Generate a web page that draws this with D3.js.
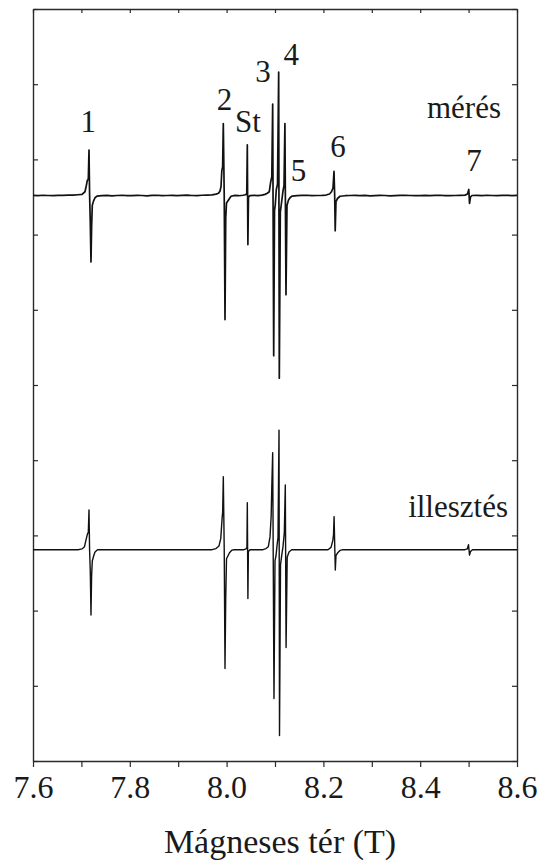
<!DOCTYPE html>
<html>
<head>
<meta charset="utf-8">
<script src="https://cdn.jsdelivr.net/npm/d3@7"></script>
<style>
  body { margin: 0; }
  svg text { font-family: "Liberation Serif" !important; }
</style>
</head>
<body>
<script>
// field values (T) and signal (arb. units, relative to each trace's baseline)
const measField = [
  7.6000, 7.6103, 7.6207, 7.6310, 7.6413, 7.6517, 7.6620, 7.6723, 7.6826, 7.6930,
  // line 1
  7.7012, 7.7074, 7.7101, 7.7122, 7.7143, 7.7157, 7.7169, 7.7184, 7.7198, 7.7211, 7.7225, 7.7250, 7.7281, 7.7322,
  7.7426, 7.7529, 7.7632, 7.7736, 7.7839, 7.7942, 7.8045, 7.8149, 7.8252, 7.8355, 7.8459, 7.8562,
  7.8665, 7.8769, 7.8872, 7.8975, 7.9079, 7.9182, 7.9285, 7.9388, 7.9492, 7.9595, 7.9698, 7.9781,
  // line 2
  7.9833, 7.9864, 7.9885, 7.9901, 7.9918, 7.9932, 7.9951, 7.9967, 7.9982, 7.9998, 8.0029, 8.0060, 8.0091,
  8.0174, 8.0256, 8.0339,
  // St
  8.0397, 8.0417, 8.0428, 8.0434, 8.0440, 8.0452, 8.0483,
  8.0566, 8.0649, 8.0731, 8.0793,
  // lines 3, 4, 5
  8.0841, 8.0882, 8.0911, 8.0934, 8.0952, 8.0973, 8.0990, 8.1006, 8.1027, 8.1052, 8.1076, 8.1089,
  8.1110, 8.1134, 8.1165, 8.1186, 8.1205, 8.1227, 8.1248, 8.1279, 8.1310, 8.1351,
  8.1455, 8.1558, 8.1661, 8.1764, 8.1868, 8.1971, 8.2054, 8.2126,
  // line 6
  8.2167, 8.2198, 8.2219, 8.2233, 8.2244, 8.2260, 8.2291, 8.2343,
  8.2446, 8.2550, 8.2653, 8.2756, 8.2860, 8.2963, 8.3066, 8.3169, 8.3273, 8.3376, 8.3479, 8.3583,
  8.3686, 8.3789, 8.3893, 8.3996, 8.4099, 8.4202, 8.4306, 8.4409, 8.4512, 8.4616, 8.4719, 8.4822, 8.4926,
  // line 7
  8.4977, 8.5004, 8.5019, 8.5039, 8.5070,
  8.5174, 8.5277, 8.5380, 8.5484, 8.5587, 8.5690, 8.5793, 8.5897, 8.6000
];
const measSignal = [
  0.01, -0.02, 0.03, 0.0, -0.03, 0.02, 0.01, 0.04, 0.05, 0.1,
  0.15, 0.5, 1.3, 2.0, 2.2, 6.05, 0.2, -3.7, -8.84, -4.2, -1.3, -0.75, -0.3, -0.08,
  -0.02, 0.01, -0.04, 0.0, 0.03, -0.01, -0.03, 0.02, 0.0, -0.05, 0.01, 0.03,
  -0.02, 0.0, 0.02, -0.03, 0.01, 0.04, 0.0, -0.02, 0.03, 0.05, 0.08, 0.18,
  0.3, 0.6, 1.2, 3.3, 3.8, 9.57, 0.0, -16.5, -3.0, -1.0, -0.7, -0.4, -0.1,
  0.01, -0.03, 0.03,
  0.1, 0.3, 6.72, 0.0, -6.52, -0.2, -0.02,
  0.02, -0.01, 0.05, 0.15,
  0.3, 0.5, 1.8, 2.5, 12.17, -21.3, -2.0, -1.2, 0.8, 1.5, 16.4, -24.3,
  -2.2, -1.0, 0.6, 1.3, 9.57, -13.2, -1.3, -0.6, -0.3, -0.08,
  -0.02, 0.01, 0.03, -0.02, 0.0, 0.02, 0.06, 0.2,
  0.5, 1.0, 3.2, 0.0, -4.7, -0.8, -0.4, -0.1,
  -0.03, 0.0, 0.02, -0.02, 0.01, -0.04, -0.01, 0.02, 0.0, -0.05, -0.02, 0.01,
  0.03, 0.0, -0.03, -0.01, 0.02, -0.02, 0.01, 0.03, -0.01, -0.03, 0.0, 0.02, 0.05,
  0.2, 0.8, -1.06, -0.2, 0.0,
  0.02, -0.01, 0.03, 0.0, -0.02, 0.01, 0.03, -0.01, 0.01
];

const fitField = [
  7.6000, 7.6930,
  7.7012, 7.7064, 7.7095, 7.7126, 7.7143, 7.7157, 7.7169, 7.7184, 7.7198, 7.7211, 7.7225, 7.7250, 7.7281, 7.7333,
  7.9698, 7.9781, 7.9843, 7.9880, 7.9905, 7.9919, 7.9932, 7.9951, 7.9967, 7.9982, 7.9998, 8.0029, 8.0060, 8.0112, 8.0153,
  8.0360, 8.0401, 8.0420, 8.0428, 8.0434, 8.0440, 8.0450, 8.0483,
  8.0752, 8.0814, 8.0862, 8.0897, 8.0921, 8.0934, 8.0952, 8.0979, 8.1000, 8.1021, 8.1041, 8.1062, 8.1083, 8.1093,
  8.1114, 8.1134, 8.1165, 8.1192, 8.1213, 8.1229, 8.1252, 8.1289, 8.1345,
  8.2095, 8.2157, 8.2194, 8.2209, 8.2221, 8.2236, 8.2246, 8.2260, 8.2291, 8.2343, 8.2405,
  8.4926, 8.4973, 8.4998, 8.5019, 8.5039, 8.5080,
  8.6000
];
const fitSignal = [
  0, 0,
  0.1, 0.4, 1.3, 2.1, 2.3, 5.3, 0.0, -3.0, -8.7, -3.5, -1.5, -0.9, -0.3, 0,
  0, 0.15, 0.5, 1.5, 4.0, 5.0, 9.7, 0, -15.8, -6.5, -1.2, -0.8, -0.4, -0.05, 0,
  0, 0.1, 0.3, 6.25, 0, -6.5, -0.25, 0,
  0, 0.15, 0.4, 1.7, 4.5, 8.4, 12.9, -19.8, -1.5, -0.8, 0.5, 1.6, 15.9, -24.7,
  -2.0, -1.0, 0.4, 2.2, 8.6, -13.0, -1.0, -0.3, 0,
  0, 0.3, 1.2, 2.0, 4.4, 0, -2.7, -0.8, -0.45, -0.1, 0,
  0, 0.1, 0.66, -0.73, -0.25, 0,
  0
];

// vertical placement of the two traces (same units as the y axis)
const measOffset = 75.2;
const fitOffset = 28.1;

const xTicks = [7.6, 7.7, 7.8, 7.9, 8.0, 8.1, 8.2, 8.3, 8.4, 8.5, 8.6];
const xTickLabels = ["7.6", "", "7.8", "", "8.0", "", "8.2", "", "8.4", "", "8.6"];
const yTicks = [0, 10, 20, 30, 40, 50, 60, 70, 80, 90, 100];

// peak numbers over the measured trace (height relative to its baseline)
const peakLabels = ["1", "2", "St", "3", "4", "5", "6", "7"];
const peakLabelField = [7.7140, 7.9957, 8.0442, 8.0752, 8.1337, 8.1483, 8.2300, 8.5112];
const peakLabelHeight = [8.4, 11.37, 8.4, 15.13, 17.35, 1.93, 5.16, 3.32];

const ink = "#1a1a1a";

const width = 538, height = 862;
const margin = {top: 9, right: 21, bottom: 101, left: 33};
const iw = width - margin.left - margin.right,
      ih = height - margin.top - margin.bottom;

const svg = d3.select("body").append("svg")
    .attr("width", width)
    .attr("height", height);

const g = svg.append("g")
    .attr("transform", "translate(" + margin.left + "," + margin.top + ")");

const x = d3.scaleLinear().domain([7.6, 8.6]).range([0, iw]);
const y = d3.scaleLinear().domain([0, 100]).range([ih, 0]);

function serifText(sel, size) {
  sel.attr("fill", ink)
     .attr("font-family", "Liberation Serif")
     .attr("font-size", size)
     .style("font-family", "'Liberation Serif'");
}

// axes
const axisColor = "#2a2a2a";
function styleAxis(sel) {
  sel.attr("font-family", "Liberation Serif");
  sel.selectAll(".domain").attr("stroke", axisColor).attr("stroke-width", 1.4);
  sel.selectAll(".tick line").attr("stroke", axisColor).attr("stroke-width", 1.2);
}

g.append("g")
    .attr("transform", "translate(0," + ih + ")")
    .call(d3.axisBottom(x)
        .tickValues(xTicks)
        .tickFormat((d, i) => xTickLabels[i])
        .tickSizeInner(6)
        .tickSizeOuter(0)
        .tickPadding(8))
    .call(styleAxis)
    .call(s => s.selectAll("text").call(serifText, 32));

g.append("g")
    .call(d3.axisTop(x).tickValues(xTicks).tickFormat("").tickSizeInner(-4).tickSizeOuter(0))
    .call(styleAxis);

g.append("g")
    .call(d3.axisLeft(y).tickValues(yTicks).tickFormat("").tickSizeInner(-5).tickSizeOuter(0))
    .call(styleAxis);

g.append("g")
    .attr("transform", "translate(" + iw + ",0)")
    .call(d3.axisRight(y).tickValues(yTicks).tickFormat("").tickSizeInner(-5).tickSizeOuter(0))
    .call(styleAxis);

// traces
const meas = d3.zip(measField, measSignal);
const fit = d3.zip(fitField, fitSignal);

g.append("path")
    .datum(meas)
    .attr("fill", "none")
    .attr("stroke", "#111")
    .attr("stroke-width", 1.7)
    .attr("stroke-linejoin", "round")
    .attr("d", d3.line()
        .x(d => x(d[0]))
        .y(d => y(measOffset + d[1])));

g.append("path")
    .datum(fit)
    .attr("fill", "none")
    .attr("stroke", "#111")
    .attr("stroke-width", 1.4)
    .attr("stroke-linejoin", "round")
    .attr("d", d3.line()
        .x(d => x(d[0]))
        .y(d => y(fitOffset + d[1])));

// peak numbers
g.selectAll(".peak")
    .data(peakLabels)
    .join("text")
    .attr("class", "peak")
    .attr("x", (d, i) => x(peakLabelField[i]))
    .attr("y", (d, i) => y(measOffset + peakLabelHeight[i]))
    .attr("text-anchor", "middle")
    .call(serifText, 31)
    .text(d => d);

// trace names
g.append("text")
    .attr("x", iw - 16)
    .attr("y", y(measOffset + 10.25))
    .attr("text-anchor", "end")
    .call(serifText, 31)
    .text("mérés");

g.append("text")
    .attr("x", iw - 9)
    .attr("y", y(fitOffset + 4.39))
    .attr("text-anchor", "end")
    .call(serifText, 31)
    .text("illesztés");

// x title
svg.append("text")
    .attr("x", 280)
    .attr("y", 853)
    .attr("text-anchor", "middle")
    .call(serifText, 34)
    .text("Mágneses tér (T)");
</script>
</body>
</html>
